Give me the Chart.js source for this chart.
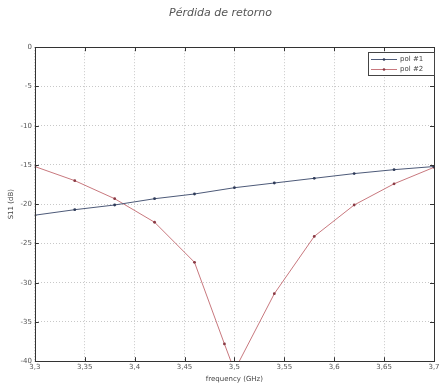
<!DOCTYPE html>
<html>
<head>
<meta charset="utf-8">
<script src="https://cdn.jsdelivr.net/npm/chart.js@4/dist/chart.umd.min.js"></script>
<style>
  html,body{margin:0;padding:0;background:#fff;}
  #wrap{width:442px;height:387px;position:relative;}
</style>
</head>
<body>
<div id="wrap"><canvas id="c" width="442" height="387"></canvas></div>
<script>
const titleText = "Pérdida de retorno";
const xLabel = "frequency (GHz)";
const yLabel = "S11 (dB)";
const seriesNames = ["pol #1", "pol #2"];

const freq1 = [3.30, 3.34, 3.38, 3.42, 3.46, 3.50, 3.54, 3.58, 3.62, 3.66, 3.70];
const pol1  = [-21.4, -20.7, -20.1, -19.3, -18.7, -17.9, -17.3, -16.7, -16.1, -15.6, -15.2];

const freq2 = [3.30, 3.34, 3.38, 3.42, 3.46, 3.49, 3.50, 3.54, 3.58, 3.62, 3.66, 3.70];
const pol2  = [-15.2, -17.0, -19.3, -22.3, -27.4, -37.8, -41.2, -31.4, -24.1, -20.1, -17.4, -15.3];

const xTickValues = [3.3, 3.35, 3.4, 3.45, 3.5, 3.55, 3.6, 3.65, 3.7];
const xTickLabels = ["3,3", "3,35", "3,4", "3,45", "3,5", "3,55", "3,6", "3,65", "3,7"];
const yTickValues = [0, -5, -10, -15, -20, -25, -30, -35, -40];
const yTickLabels = ["0", "-5", "-10", "-15", "-20", "-25", "-30", "-35", "-40"];

const colors = ["#4d5a78", "#c8787e"];
const markerColors = ["#2e3a58", "#8a3a44"];

const toPts = (xs, ys) => xs.map((x, i) => ({x: x, y: ys[i]}));

const boxPlugin = {
  id: 'boxPlugin',
  afterDatasetsDraw(chart) {
    const ctx = chart.ctx;
    const a = chart.chartArea;
    const xs = chart.scales.x, ys = chart.scales.y;
    ctx.save();
    ctx.strokeStyle = '#333';
    ctx.lineWidth = 1;
    ctx.strokeRect(Math.round(a.left) + 0.5, Math.round(a.top) + 0.5,
                   Math.round(a.right - a.left), Math.round(a.bottom - a.top));
    ctx.beginPath();
    const tl = 4;
    xTickValues.forEach(v => {
      const px = Math.round(xs.getPixelForValue(v)) + 0.5;
      ctx.moveTo(px, a.top); ctx.lineTo(px, a.top + tl);
      ctx.moveTo(px, a.bottom); ctx.lineTo(px, a.bottom - tl);
    });
    yTickValues.forEach(v => {
      const py = Math.round(ys.getPixelForValue(v)) + 0.5;
      ctx.moveTo(a.left, py); ctx.lineTo(a.left + tl, py);
      ctx.moveTo(a.right, py); ctx.lineTo(a.right - tl, py);
    });
    ctx.stroke();

    // legend box
    const lx = 368, ly = 52, lw = 66, lh = 23;
    ctx.fillStyle = '#fff';
    ctx.fillRect(lx, ly, lw, lh);
    ctx.strokeStyle = '#444';
    ctx.strokeRect(lx + 0.5, ly + 0.5, lw, lh);
    ctx.font = '7px "DejaVu Sans"';
    ctx.textBaseline = 'middle';
    ctx.textAlign = 'left';
    seriesNames.forEach((name, i) => {
      const y = ly + 7 + i * 10 + 0.5;
      ctx.strokeStyle = colors[i];
      ctx.beginPath(); ctx.moveTo(lx + 3, y); ctx.lineTo(lx + 29, y); ctx.stroke();
      ctx.fillStyle = markerColors[i];
      ctx.beginPath(); ctx.arc(lx + 16, y, 1.3, 0, Math.PI * 2); ctx.fill();
      ctx.fillStyle = '#444';
      ctx.fillText(name, lx + 32, y);
    });
    ctx.restore();
  }
};

new Chart(document.getElementById('c'), {
  type: 'line',
  data: {
    datasets: [
      {label: seriesNames[0], data: toPts(freq1, pol1), borderColor: colors[0], backgroundColor: markerColors[0],
       borderWidth: 1, pointRadius: 1.4, pointBorderWidth: 0, pointBackgroundColor: markerColors[0], tension: 0},
      {label: seriesNames[1], data: toPts(freq2, pol2), borderColor: colors[1], backgroundColor: markerColors[1],
       borderWidth: 1, pointRadius: 1.4, pointBorderWidth: 0, pointBackgroundColor: markerColors[1], tension: 0}
    ]
  },
  options: {
    responsive: false,
    animation: false,
    devicePixelRatio: 1,
    layout: {padding: {left: 7, right: 8, top: 0, bottom: 4}},
    plugins: {
      legend: {display: false},
      tooltip: {enabled: false},
      title: {
        display: true, text: titleText, color: '#555',
        font: {family: '"DejaVu Sans"', size: 11, style: 'italic', weight: 'normal'},
        padding: {top: 7, bottom: 27}
      }
    },
    scales: {
      x: {
        type: 'linear', min: 3.3, max: 3.7,
        afterBuildTicks: s => { s.ticks = xTickValues.map(v => ({value: v})); },
        ticks: {
          callback: (v, i) => xTickLabels[i],
          font: {family: '"DejaVu Sans"', size: 7}, color: '#555', padding: 2, maxRotation: 0, autoSkip: false
        },
        grid: {color: '#c8c8c8', lineWidth: 1, drawTicks: false, tickLength: 0},
        border: {display: false, dash: [1, 2]},
        title: {display: true, text: xLabel, color: '#444', font: {family: '"DejaVu Sans"', size: 7}, padding: {top: 1, bottom: 0}}
      },
      y: {
        type: 'linear', min: -40, max: 0,
        afterBuildTicks: s => { s.ticks = yTickValues.map(v => ({value: v})); },
        ticks: {
          callback: (v, i) => yTickLabels[i],
          font: {family: '"DejaVu Sans"', size: 7}, color: '#555', padding: 3, autoSkip: false
        },
        grid: {color: '#c8c8c8', lineWidth: 1, drawTicks: false, tickLength: 0},
        border: {display: false, dash: [1, 2]},
        title: {display: true, text: yLabel, color: '#444', font: {family: '"DejaVu Sans"', size: 7}, padding: {top: 0, bottom: 2}}
      }
    }
  },
  plugins: [boxPlugin]
});
</script>
</body>
</html>
